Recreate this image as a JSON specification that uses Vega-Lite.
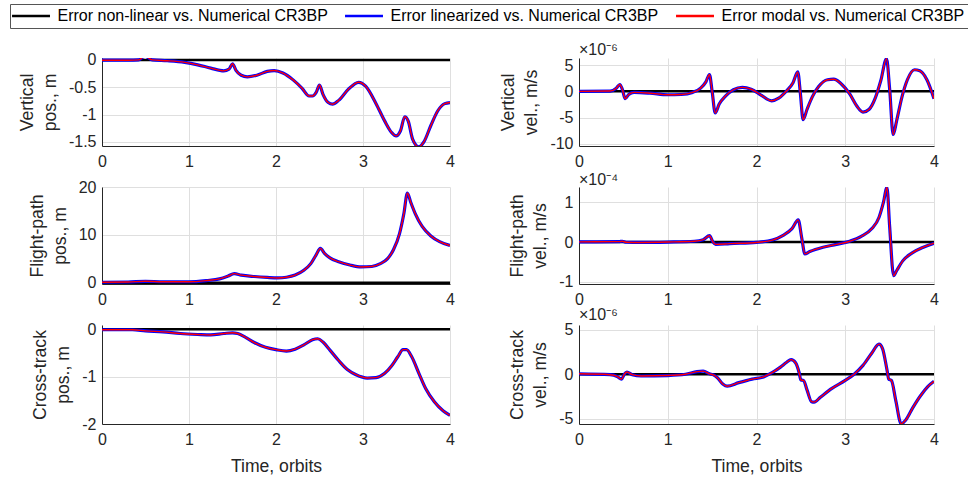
{
  "$schema": "https://vega.github.io/schema/vega-lite/v6.json",
  "background": "white",
  "padding": {"left": 9, "top": 3, "right": 0, "bottom": 0},
  "autosize": {"type": "pad"},
  "config": {
    "font": "Liberation Sans",
    "view": {"stroke": null},
    "axis": {
      "labelFont": "Liberation Sans", "labelFontSize": 16, "labelColor": "#262626",
      "titleFont": "Liberation Sans", "titleFontSize": 17.6, "titleColor": "#262626", "titleFontWeight": "normal",
      "titleLineHeight": 23,
      "domainColor": "#262626", "domainWidth": 1,
      "gridColor": "#dfdfdf", "gridWidth": 1,
      "ticks": false, "labelFlush": false, "labelPadding": 6, "labelOverlap": false
    },
    "axisX": {"labelPadding": 7, "titlePadding": 10},
    "axisY": {"titlePadding": 9},
    "title": {"font": "Liberation Sans", "fontSize": 16, "fontWeight": "normal", "color": "#262626", "anchor": "start", "frame": "group", "offset": -1}
  },
  "data": {"values": [
    {"panel":"vpos","t":0,"nl":0,"lin":-0.005,"mod":-0.005},
    {"panel":"vpos","t":0.3,"nl":0,"lin":-0.005,"mod":-0.005},
    {"panel":"vpos","t":0.42,"nl":0,"lin":0.0,"mod":0.0},
    {"panel":"vpos","t":0.47,"nl":0,"lin":0.05,"mod":0.05},
    {"panel":"vpos","t":0.5,"nl":0,"lin":0.07,"mod":0.07},
    {"panel":"vpos","t":0.53,"nl":0,"lin":0.04,"mod":0.04},
    {"panel":"vpos","t":0.58,"nl":0,"lin":0.0,"mod":0.0},
    {"panel":"vpos","t":0.75,"nl":0,"lin":-0.015,"mod":-0.015},
    {"panel":"vpos","t":0.95,"nl":0,"lin":-0.045,"mod":-0.045},
    {"panel":"vpos","t":1.1,"nl":0,"lin":-0.09,"mod":-0.09},
    {"panel":"vpos","t":1.25,"nl":0,"lin":-0.15,"mod":-0.15},
    {"panel":"vpos","t":1.4,"nl":0,"lin":-0.2,"mod":-0.2},
    {"panel":"vpos","t":1.46,"nl":0,"lin":-0.17,"mod":-0.17},
    {"panel":"vpos","t":1.5,"nl":0,"lin":-0.07,"mod":-0.07},
    {"panel":"vpos","t":1.54,"nl":0,"lin":-0.19,"mod":-0.19},
    {"panel":"vpos","t":1.6,"nl":0,"lin":-0.28,"mod":-0.28},
    {"panel":"vpos","t":1.67,"nl":0,"lin":-0.31,"mod":-0.31},
    {"panel":"vpos","t":1.78,"nl":0,"lin":-0.28,"mod":-0.28},
    {"panel":"vpos","t":1.9,"nl":0,"lin":-0.21,"mod":-0.21},
    {"panel":"vpos","t":1.98,"nl":0,"lin":-0.195,"mod":-0.195},
    {"panel":"vpos","t":2.08,"nl":0,"lin":-0.24,"mod":-0.24},
    {"panel":"vpos","t":2.2,"nl":0,"lin":-0.37,"mod":-0.37},
    {"panel":"vpos","t":2.3,"nl":0,"lin":-0.52,"mod":-0.52},
    {"panel":"vpos","t":2.38,"nl":0,"lin":-0.66,"mod":-0.66},
    {"panel":"vpos","t":2.42,"nl":0,"lin":-0.66,"mod":-0.66},
    {"panel":"vpos","t":2.46,"nl":0,"lin":-0.6,"mod":-0.6},
    {"panel":"vpos","t":2.5,"nl":0,"lin":-0.46,"mod":-0.46},
    {"panel":"vpos","t":2.54,"nl":0,"lin":-0.63,"mod":-0.63},
    {"panel":"vpos","t":2.6,"nl":0,"lin":-0.78,"mod":-0.78},
    {"panel":"vpos","t":2.65,"nl":0,"lin":-0.81,"mod":-0.81},
    {"panel":"vpos","t":2.72,"nl":0,"lin":-0.74,"mod":-0.74},
    {"panel":"vpos","t":2.83,"nl":0,"lin":-0.54,"mod":-0.54},
    {"panel":"vpos","t":2.95,"nl":0,"lin":-0.41,"mod":-0.41},
    {"panel":"vpos","t":3.03,"nl":0,"lin":-0.48,"mod":-0.48},
    {"panel":"vpos","t":3.15,"nl":0,"lin":-0.8,"mod":-0.8},
    {"panel":"vpos","t":3.25,"nl":0,"lin":-1.12,"mod":-1.12},
    {"panel":"vpos","t":3.33,"nl":0,"lin":-1.33,"mod":-1.33},
    {"panel":"vpos","t":3.38,"nl":0,"lin":-1.39,"mod":-1.39},
    {"panel":"vpos","t":3.43,"nl":0,"lin":-1.3,"mod":-1.3},
    {"panel":"vpos","t":3.48,"nl":0,"lin":-1.04,"mod":-1.04},
    {"panel":"vpos","t":3.52,"nl":0,"lin":-1.12,"mod":-1.12},
    {"panel":"vpos","t":3.57,"nl":0,"lin":-1.45,"mod":-1.45},
    {"panel":"vpos","t":3.64,"nl":0,"lin":-1.59,"mod":-1.59},
    {"panel":"vpos","t":3.7,"nl":0,"lin":-1.5,"mod":-1.5},
    {"panel":"vpos","t":3.78,"nl":0,"lin":-1.2,"mod":-1.2},
    {"panel":"vpos","t":3.86,"nl":0,"lin":-0.93,"mod":-0.93},
    {"panel":"vpos","t":3.94,"nl":0,"lin":-0.8,"mod":-0.8},
    {"panel":"vpos","t":4.0,"nl":0,"lin":-0.78,"mod":-0.78},

    {"panel":"vvel","t":0,"nl":0,"lin":0,"mod":0},
    {"panel":"vvel","t":0.35,"nl":0,"lin":0.05e-6,"mod":0.05e-6},
    {"panel":"vvel","t":0.42,"nl":0,"lin":0.6e-6,"mod":0.6e-6},
    {"panel":"vvel","t":0.46,"nl":0,"lin":1.3e-6,"mod":1.3e-6},
    {"panel":"vvel","t":0.49,"nl":0,"lin":0.3e-6,"mod":0.3e-6},
    {"panel":"vvel","t":0.52,"nl":0,"lin":-1.4e-6,"mod":-1.4e-6},
    {"panel":"vvel","t":0.56,"nl":0,"lin":-0.6e-6,"mod":-0.6e-6},
    {"panel":"vvel","t":0.62,"nl":0,"lin":-0.2e-6,"mod":-0.2e-6},
    {"panel":"vvel","t":0.8,"nl":0,"lin":-0.35e-6,"mod":-0.35e-6},
    {"panel":"vvel","t":1.0,"nl":0,"lin":-0.65e-6,"mod":-0.65e-6},
    {"panel":"vvel","t":1.15,"nl":0,"lin":-0.6e-6,"mod":-0.6e-6},
    {"panel":"vvel","t":1.28,"nl":0,"lin":-0.2e-6,"mod":-0.2e-6},
    {"panel":"vvel","t":1.37,"nl":0,"lin":0.6e-6,"mod":0.6e-6},
    {"panel":"vvel","t":1.43,"nl":0,"lin":1.8e-6,"mod":1.8e-6},
    {"panel":"vvel","t":1.47,"nl":0,"lin":3.2e-6,"mod":3.2e-6},
    {"panel":"vvel","t":1.5,"nl":0,"lin":0.0,"mod":0.0},
    {"panel":"vvel","t":1.535,"nl":0,"lin":-4.1e-6,"mod":-4.1e-6},
    {"panel":"vvel","t":1.58,"nl":0,"lin":-2.4e-6,"mod":-2.4e-6},
    {"panel":"vvel","t":1.65,"nl":0,"lin":-0.9e-6,"mod":-0.9e-6},
    {"panel":"vvel","t":1.74,"nl":0,"lin":0.3e-6,"mod":0.3e-6},
    {"panel":"vvel","t":1.84,"nl":0,"lin":0.75e-6,"mod":0.75e-6},
    {"panel":"vvel","t":1.94,"nl":0,"lin":0.4e-6,"mod":0.4e-6},
    {"panel":"vvel","t":2.05,"nl":0,"lin":-0.7e-6,"mod":-0.7e-6},
    {"panel":"vvel","t":2.17,"nl":0,"lin":-1.8e-6,"mod":-1.8e-6},
    {"panel":"vvel","t":2.25,"nl":0,"lin":-1.3e-6,"mod":-1.3e-6},
    {"panel":"vvel","t":2.34,"nl":0,"lin":0.1e-6,"mod":0.1e-6},
    {"panel":"vvel","t":2.41,"nl":0,"lin":1.6e-6,"mod":1.6e-6},
    {"panel":"vvel","t":2.465,"nl":0,"lin":3.7e-6,"mod":3.7e-6},
    {"panel":"vvel","t":2.495,"nl":0,"lin":-0.5e-6,"mod":-0.5e-6},
    {"panel":"vvel","t":2.525,"nl":0,"lin":-5.4e-6,"mod":-5.4e-6},
    {"panel":"vvel","t":2.57,"nl":0,"lin":-3.4e-6,"mod":-3.4e-6},
    {"panel":"vvel","t":2.63,"nl":0,"lin":-1.0e-6,"mod":-1.0e-6},
    {"panel":"vvel","t":2.7,"nl":0,"lin":0.9e-6,"mod":0.9e-6},
    {"panel":"vvel","t":2.8,"nl":0,"lin":2.2e-6,"mod":2.2e-6},
    {"panel":"vvel","t":2.87,"nl":0,"lin":2.3e-6,"mod":2.3e-6},
    {"panel":"vvel","t":2.95,"nl":0,"lin":1.5e-6,"mod":1.5e-6},
    {"panel":"vvel","t":3.05,"nl":0,"lin":-0.5e-6,"mod":-0.5e-6},
    {"panel":"vvel","t":3.13,"nl":0,"lin":-2.8e-6,"mod":-2.8e-6},
    {"panel":"vvel","t":3.2,"nl":0,"lin":-3.95e-6,"mod":-3.95e-6},
    {"panel":"vvel","t":3.27,"nl":0,"lin":-3.4e-6,"mod":-3.4e-6},
    {"panel":"vvel","t":3.34,"nl":0,"lin":-1.2e-6,"mod":-1.2e-6},
    {"panel":"vvel","t":3.4,"nl":0,"lin":2.0e-6,"mod":2.0e-6},
    {"panel":"vvel","t":3.465,"nl":0,"lin":6.2e-6,"mod":6.2e-6},
    {"panel":"vvel","t":3.5,"nl":0,"lin":0.5e-6,"mod":0.5e-6},
    {"panel":"vvel","t":3.54,"nl":0,"lin":-8.2e-6,"mod":-8.2e-6},
    {"panel":"vvel","t":3.58,"nl":0,"lin":-5.5e-6,"mod":-5.5e-6},
    {"panel":"vvel","t":3.64,"nl":0,"lin":-1.0e-6,"mod":-1.0e-6},
    {"panel":"vvel","t":3.7,"nl":0,"lin":2.2e-6,"mod":2.2e-6},
    {"panel":"vvel","t":3.78,"nl":0,"lin":4.1e-6,"mod":4.1e-6},
    {"panel":"vvel","t":3.84,"nl":0,"lin":3.9e-6,"mod":3.9e-6},
    {"panel":"vvel","t":3.92,"nl":0,"lin":2.2e-6,"mod":2.2e-6},
    {"panel":"vvel","t":4.0,"nl":0,"lin":-1.4e-6,"mod":-1.4e-6},

    {"panel":"fpos","t":0,"nl":0,"lin":0.1,"mod":0.1},
    {"panel":"fpos","t":0.3,"nl":0,"lin":0.15,"mod":0.15},
    {"panel":"fpos","t":0.5,"nl":0,"lin":0.3,"mod":0.3},
    {"panel":"fpos","t":0.7,"nl":0,"lin":0.2,"mod":0.2},
    {"panel":"fpos","t":1.0,"nl":0,"lin":0.2,"mod":0.2},
    {"panel":"fpos","t":1.2,"nl":0,"lin":0.45,"mod":0.45},
    {"panel":"fpos","t":1.35,"nl":0,"lin":0.8,"mod":0.8},
    {"panel":"fpos","t":1.45,"nl":0,"lin":1.4,"mod":1.4},
    {"panel":"fpos","t":1.52,"nl":0,"lin":1.9,"mod":1.9},
    {"panel":"fpos","t":1.6,"nl":0,"lin":1.6,"mod":1.6},
    {"panel":"fpos","t":1.75,"nl":0,"lin":1.3,"mod":1.3},
    {"panel":"fpos","t":1.9,"nl":0,"lin":1.1,"mod":1.1},
    {"panel":"fpos","t":2.02,"nl":0,"lin":1.0,"mod":1.0},
    {"panel":"fpos","t":2.12,"nl":0,"lin":1.15,"mod":1.15},
    {"panel":"fpos","t":2.22,"nl":0,"lin":1.6,"mod":1.6},
    {"panel":"fpos","t":2.32,"nl":0,"lin":2.6,"mod":2.6},
    {"panel":"fpos","t":2.4,"nl":0,"lin":4.0,"mod":4.0},
    {"panel":"fpos","t":2.46,"nl":0,"lin":5.8,"mod":5.8},
    {"panel":"fpos","t":2.51,"nl":0,"lin":7.2,"mod":7.2},
    {"panel":"fpos","t":2.56,"nl":0,"lin":6.1,"mod":6.1},
    {"panel":"fpos","t":2.62,"nl":0,"lin":5.2,"mod":5.2},
    {"panel":"fpos","t":2.72,"nl":0,"lin":4.4,"mod":4.4},
    {"panel":"fpos","t":2.85,"nl":0,"lin":3.7,"mod":3.7},
    {"panel":"fpos","t":2.98,"nl":0,"lin":3.3,"mod":3.3},
    {"panel":"fpos","t":3.1,"nl":0,"lin":3.4,"mod":3.4},
    {"panel":"fpos","t":3.2,"nl":0,"lin":4.0,"mod":4.0},
    {"panel":"fpos","t":3.28,"nl":0,"lin":5.0,"mod":5.0},
    {"panel":"fpos","t":3.35,"nl":0,"lin":6.9,"mod":6.9},
    {"panel":"fpos","t":3.42,"nl":0,"lin":10.3,"mod":10.3},
    {"panel":"fpos","t":3.47,"nl":0,"lin":14.5,"mod":14.5},
    {"panel":"fpos","t":3.51,"nl":0,"lin":18.8,"mod":18.8},
    {"panel":"fpos","t":3.55,"nl":0,"lin":16.8,"mod":16.8},
    {"panel":"fpos","t":3.6,"nl":0,"lin":14.5,"mod":14.5},
    {"panel":"fpos","t":3.68,"nl":0,"lin":11.8,"mod":11.8},
    {"panel":"fpos","t":3.78,"nl":0,"lin":9.8,"mod":9.8},
    {"panel":"fpos","t":3.88,"nl":0,"lin":8.6,"mod":8.6},
    {"panel":"fpos","t":4.0,"nl":0,"lin":7.8,"mod":7.8},

    {"panel":"fvel","t":0,"nl":0,"lin":0.005e-4,"mod":0.005e-4},
    {"panel":"fvel","t":0.45,"nl":0,"lin":0.01e-4,"mod":0.01e-4},
    {"panel":"fvel","t":0.49,"nl":0,"lin":0.02e-4,"mod":0.02e-4},
    {"panel":"fvel","t":0.53,"nl":0,"lin":-0.005e-4,"mod":-0.005e-4},
    {"panel":"fvel","t":0.7,"nl":0,"lin":-0.01e-4,"mod":-0.01e-4},
    {"panel":"fvel","t":1.0,"nl":0,"lin":0.0,"mod":0.0},
    {"panel":"fvel","t":1.3,"nl":0,"lin":0.02e-4,"mod":0.02e-4},
    {"panel":"fvel","t":1.4,"nl":0,"lin":0.06e-4,"mod":0.06e-4},
    {"panel":"fvel","t":1.47,"nl":0,"lin":0.16e-4,"mod":0.16e-4},
    {"panel":"fvel","t":1.51,"nl":0,"lin":0.0,"mod":0.0},
    {"panel":"fvel","t":1.54,"nl":0,"lin":-0.06e-4,"mod":-0.06e-4},
    {"panel":"fvel","t":1.7,"nl":0,"lin":-0.04e-4,"mod":-0.04e-4},
    {"panel":"fvel","t":2.0,"nl":0,"lin":-0.01e-4,"mod":-0.01e-4},
    {"panel":"fvel","t":2.18,"nl":0,"lin":0.05e-4,"mod":0.05e-4},
    {"panel":"fvel","t":2.3,"nl":0,"lin":0.17e-4,"mod":0.17e-4},
    {"panel":"fvel","t":2.4,"nl":0,"lin":0.34e-4,"mod":0.34e-4},
    {"panel":"fvel","t":2.47,"nl":0,"lin":0.56e-4,"mod":0.56e-4},
    {"panel":"fvel","t":2.51,"nl":0,"lin":0.1e-4,"mod":0.1e-4},
    {"panel":"fvel","t":2.545,"nl":0,"lin":-0.3e-4,"mod":-0.3e-4},
    {"panel":"fvel","t":2.6,"nl":0,"lin":-0.24e-4,"mod":-0.24e-4},
    {"panel":"fvel","t":2.75,"nl":0,"lin":-0.13e-4,"mod":-0.13e-4},
    {"panel":"fvel","t":2.9,"nl":0,"lin":-0.06e-4,"mod":-0.06e-4},
    {"panel":"fvel","t":3.05,"nl":0,"lin":0.02e-4,"mod":0.02e-4},
    {"panel":"fvel","t":3.18,"nl":0,"lin":0.14e-4,"mod":0.14e-4},
    {"panel":"fvel","t":3.3,"nl":0,"lin":0.34e-4,"mod":0.34e-4},
    {"panel":"fvel","t":3.38,"nl":0,"lin":0.62e-4,"mod":0.62e-4},
    {"panel":"fvel","t":3.43,"nl":0,"lin":1.0e-4,"mod":1.0e-4},
    {"panel":"fvel","t":3.47,"nl":0,"lin":1.38e-4,"mod":1.38e-4},
    {"panel":"fvel","t":3.5,"nl":0,"lin":0.4e-4,"mod":0.4e-4},
    {"panel":"fvel","t":3.545,"nl":0,"lin":-0.85e-4,"mod":-0.85e-4},
    {"panel":"fvel","t":3.58,"nl":0,"lin":-0.72e-4,"mod":-0.72e-4},
    {"panel":"fvel","t":3.65,"nl":0,"lin":-0.47e-4,"mod":-0.47e-4},
    {"panel":"fvel","t":3.75,"nl":0,"lin":-0.28e-4,"mod":-0.28e-4},
    {"panel":"fvel","t":3.88,"nl":0,"lin":-0.13e-4,"mod":-0.13e-4},
    {"panel":"fvel","t":4.0,"nl":0,"lin":-0.03e-4,"mod":-0.03e-4},

    {"panel":"cpos","t":0,"nl":0,"lin":-0.01,"mod":-0.01},
    {"panel":"cpos","t":0.35,"nl":0,"lin":-0.01,"mod":-0.01},
    {"panel":"cpos","t":0.5,"nl":0,"lin":-0.035,"mod":-0.035},
    {"panel":"cpos","t":0.7,"nl":0,"lin":-0.055,"mod":-0.055},
    {"panel":"cpos","t":0.9,"nl":0,"lin":-0.09,"mod":-0.09},
    {"panel":"cpos","t":1.1,"nl":0,"lin":-0.11,"mod":-0.11},
    {"panel":"cpos","t":1.25,"nl":0,"lin":-0.12,"mod":-0.12},
    {"panel":"cpos","t":1.4,"nl":0,"lin":-0.09,"mod":-0.09},
    {"panel":"cpos","t":1.5,"nl":0,"lin":-0.075,"mod":-0.075},
    {"panel":"cpos","t":1.56,"nl":0,"lin":-0.09,"mod":-0.09},
    {"panel":"cpos","t":1.65,"nl":0,"lin":-0.17,"mod":-0.17},
    {"panel":"cpos","t":1.75,"nl":0,"lin":-0.28,"mod":-0.28},
    {"panel":"cpos","t":1.88,"nl":0,"lin":-0.38,"mod":-0.38},
    {"panel":"cpos","t":2.0,"nl":0,"lin":-0.43,"mod":-0.43},
    {"panel":"cpos","t":2.12,"nl":0,"lin":-0.46,"mod":-0.46},
    {"panel":"cpos","t":2.22,"nl":0,"lin":-0.42,"mod":-0.42},
    {"panel":"cpos","t":2.32,"nl":0,"lin":-0.33,"mod":-0.33},
    {"panel":"cpos","t":2.42,"nl":0,"lin":-0.22,"mod":-0.22},
    {"panel":"cpos","t":2.48,"nl":0,"lin":-0.2,"mod":-0.2},
    {"panel":"cpos","t":2.54,"nl":0,"lin":-0.27,"mod":-0.27},
    {"panel":"cpos","t":2.62,"nl":0,"lin":-0.44,"mod":-0.44},
    {"panel":"cpos","t":2.72,"nl":0,"lin":-0.66,"mod":-0.66},
    {"panel":"cpos","t":2.82,"nl":0,"lin":-0.85,"mod":-0.85},
    {"panel":"cpos","t":2.92,"nl":0,"lin":-0.96,"mod":-0.96},
    {"panel":"cpos","t":3.05,"nl":0,"lin":-1.03,"mod":-1.03},
    {"panel":"cpos","t":3.15,"nl":0,"lin":-1.02,"mod":-1.02},
    {"panel":"cpos","t":3.25,"nl":0,"lin":-0.93,"mod":-0.93},
    {"panel":"cpos","t":3.33,"nl":0,"lin":-0.77,"mod":-0.77},
    {"panel":"cpos","t":3.4,"nl":0,"lin":-0.58,"mod":-0.58},
    {"panel":"cpos","t":3.46,"nl":0,"lin":-0.43,"mod":-0.43},
    {"panel":"cpos","t":3.5,"nl":0,"lin":-0.43,"mod":-0.43},
    {"panel":"cpos","t":3.56,"nl":0,"lin":-0.58,"mod":-0.58},
    {"panel":"cpos","t":3.64,"nl":0,"lin":-0.92,"mod":-0.92},
    {"panel":"cpos","t":3.72,"nl":0,"lin":-1.25,"mod":-1.25},
    {"panel":"cpos","t":3.82,"nl":0,"lin":-1.53,"mod":-1.53},
    {"panel":"cpos","t":3.92,"nl":0,"lin":-1.72,"mod":-1.72},
    {"panel":"cpos","t":4.0,"nl":0,"lin":-1.82,"mod":-1.82},

    {"panel":"cvel","t":0,"nl":0,"lin":0.05e-6,"mod":0.05e-6},
    {"panel":"cvel","t":0.35,"nl":0,"lin":-0.05e-6,"mod":-0.05e-6},
    {"panel":"cvel","t":0.43,"nl":0,"lin":-0.25e-6,"mod":-0.25e-6},
    {"panel":"cvel","t":0.48,"nl":0,"lin":-0.55e-6,"mod":-0.55e-6},
    {"panel":"cvel","t":0.51,"nl":0,"lin":0.0,"mod":0.0},
    {"panel":"cvel","t":0.54,"nl":0,"lin":0.25e-6,"mod":0.25e-6},
    {"panel":"cvel","t":0.6,"nl":0,"lin":-0.05e-6,"mod":-0.05e-6},
    {"panel":"cvel","t":0.7,"nl":0,"lin":-0.2e-6,"mod":-0.2e-6},
    {"panel":"cvel","t":1.0,"nl":0,"lin":-0.15e-6,"mod":-0.15e-6},
    {"panel":"cvel","t":1.2,"nl":0,"lin":0.0,"mod":0.0},
    {"panel":"cvel","t":1.33,"nl":0,"lin":0.3e-6,"mod":0.3e-6},
    {"panel":"cvel","t":1.4,"nl":0,"lin":0.35e-6,"mod":0.35e-6},
    {"panel":"cvel","t":1.47,"nl":0,"lin":0.05e-6,"mod":0.05e-6},
    {"panel":"cvel","t":1.52,"nl":0,"lin":-0.1e-6,"mod":-0.1e-6},
    {"panel":"cvel","t":1.56,"nl":0,"lin":-0.4e-6,"mod":-0.4e-6},
    {"panel":"cvel","t":1.62,"nl":0,"lin":-1.1e-6,"mod":-1.1e-6},
    {"panel":"cvel","t":1.67,"nl":0,"lin":-1.35e-6,"mod":-1.35e-6},
    {"panel":"cvel","t":1.8,"nl":0,"lin":-0.95e-6,"mod":-0.95e-6},
    {"panel":"cvel","t":1.95,"nl":0,"lin":-0.55e-6,"mod":-0.55e-6},
    {"panel":"cvel","t":2.08,"nl":0,"lin":-0.3e-6,"mod":-0.3e-6},
    {"panel":"cvel","t":2.18,"nl":0,"lin":0.2e-6,"mod":0.2e-6},
    {"panel":"cvel","t":2.27,"nl":0,"lin":0.8e-6,"mod":0.8e-6},
    {"panel":"cvel","t":2.34,"nl":0,"lin":1.35e-6,"mod":1.35e-6},
    {"panel":"cvel","t":2.39,"nl":0,"lin":1.65e-6,"mod":1.65e-6},
    {"panel":"cvel","t":2.44,"nl":0,"lin":1.3e-6,"mod":1.3e-6},
    {"panel":"cvel","t":2.48,"nl":0,"lin":0.2e-6,"mod":0.2e-6},
    {"panel":"cvel","t":2.5,"nl":0,"lin":-0.65e-6,"mod":-0.65e-6},
    {"panel":"cvel","t":2.53,"nl":0,"lin":-0.7e-6,"mod":-0.7e-6},
    {"panel":"cvel","t":2.57,"nl":0,"lin":-1.8e-6,"mod":-1.8e-6},
    {"panel":"cvel","t":2.62,"nl":0,"lin":-3.1e-6,"mod":-3.1e-6},
    {"panel":"cvel","t":2.65,"nl":0,"lin":-3.15e-6,"mod":-3.15e-6},
    {"panel":"cvel","t":2.72,"nl":0,"lin":-2.6e-6,"mod":-2.6e-6},
    {"panel":"cvel","t":2.85,"nl":0,"lin":-1.6e-6,"mod":-1.6e-6},
    {"panel":"cvel","t":3.0,"nl":0,"lin":-0.7e-6,"mod":-0.7e-6},
    {"panel":"cvel","t":3.1,"nl":0,"lin":0.0,"mod":0.0},
    {"panel":"cvel","t":3.2,"nl":0,"lin":1.0e-6,"mod":1.0e-6},
    {"panel":"cvel","t":3.3,"nl":0,"lin":2.4e-6,"mod":2.4e-6},
    {"panel":"cvel","t":3.38,"nl":0,"lin":3.4e-6,"mod":3.4e-6},
    {"panel":"cvel","t":3.42,"nl":0,"lin":2.9e-6,"mod":2.9e-6},
    {"panel":"cvel","t":3.47,"nl":0,"lin":0.5e-6,"mod":0.5e-6},
    {"panel":"cvel","t":3.49,"nl":0,"lin":-0.55e-6,"mod":-0.55e-6},
    {"panel":"cvel","t":3.52,"nl":0,"lin":-0.7e-6,"mod":-0.7e-6},
    {"panel":"cvel","t":3.57,"nl":0,"lin":-3.0e-6,"mod":-3.0e-6},
    {"panel":"cvel","t":3.63,"nl":0,"lin":-5.6e-6,"mod":-5.6e-6},
    {"panel":"cvel","t":3.68,"nl":0,"lin":-5.2e-6,"mod":-5.2e-6},
    {"panel":"cvel","t":3.76,"nl":0,"lin":-3.8e-6,"mod":-3.8e-6},
    {"panel":"cvel","t":3.85,"nl":0,"lin":-2.4e-6,"mod":-2.4e-6},
    {"panel":"cvel","t":3.93,"nl":0,"lin":-1.4e-6,"mod":-1.4e-6},
    {"panel":"cvel","t":4.0,"nl":0,"lin":-0.8e-6,"mod":-0.8e-6}
  ]},
  "columns": 2,
  "bounds": "flush",
  "align": "each",
  "spacing": {"row": 41, "column": 129},
  "resolve": {"scale": {"x": "independent", "y": "independent", "color": "shared"}},
  "concat": [
    {
      "width": 348, "height": 88,
      "transform": [{"filter": "datum.panel == 'vpos'"}, {"fold": ["nl", "lin", "mod"], "as": ["s", "v"]}],
      "encoding": {
        "x": {"field": "t", "type": "quantitative", "scale": {"domain": [0, 4], "nice": false}, "axis": {"values": [0, 1, 2, 3, 4], "title": null}},
        "y": {"field": "v", "type": "quantitative", "scale": {"domain": [-1.575, 0.035], "nice": false, "zero": false}, "axis": {"values": [-1.5, -1, -0.5, 0], "labelExpr": "'' + datum.value", "title": ["Vertical", "pos., m"]}}
      },
      "layer": [
        {"transform": [{"filter": "datum.s == 'nl'"}], "mark": {"type": "line", "strokeWidth": 2.5, "clip": true},
         "encoding": {"color": {"datum": "Error non-linear vs. Numerical CR3BP", "type": "nominal",
           "scale": {"domain": ["Error non-linear vs. Numerical CR3BP", "Error linearized vs. Numerical CR3BP", "Error modal vs. Numerical CR3BP"], "range": ["#000000", "#0000ff", "#ff0000"]},
           "legend": {"orient": "none", "direction": "horizontal", "legendX": -92, "legendY": -54, "title": null,
             "symbolType": "M-2.1,0H5.9", "symbolSize": 90, "symbolStrokeWidth": 2.5,
             "labelFont": "Liberation Sans", "labelFontSize": 16, "labelColor": "#000000", "labelOffset": 27.5, "labelLimit": 500,
             "columnPadding": 12, "padding": 4, "strokeColor": "#555555", "fillColor": "#ffffff", "gridAlign": "none"}}}},
        {"transform": [{"filter": "datum.s == 'lin'"}], "mark": {"type": "line", "strokeWidth": 3.2, "interpolate": "monotone", "clip": true},
         "encoding": {"color": {"datum": "Error linearized vs. Numerical CR3BP", "type": "nominal"}}},
        {"transform": [{"filter": "datum.s == 'mod'"}], "mark": {"type": "line", "strokeWidth": 1.4, "interpolate": "monotone", "clip": true},
         "encoding": {"color": {"datum": "Error modal vs. Numerical CR3BP", "type": "nominal"}}}
      ]
    },
    {
      "width": 355, "height": 88,
      "title": {"text": "×10⁻⁶"},
      "transform": [{"filter": "datum.panel == 'vvel'"}, {"fold": ["nl", "lin", "mod"], "as": ["s", "v"]}],
      "encoding": {
        "x": {"field": "t", "type": "quantitative", "scale": {"domain": [0, 4], "nice": false}, "axis": {"values": [0, 1, 2, 3, 4], "title": null}},
        "y": {"field": "v", "type": "quantitative", "scale": {"domain": [-10.38e-6, 6.33e-6], "nice": false, "zero": false}, "axis": {"values": [-10e-6, -5e-6, 0, 5e-6], "labelExpr": "'' + round(datum.value * 1e6)", "title": ["Vertical", "vel., m/s"]}}
      },
      "layer": [
        {"transform": [{"filter": "datum.s == 'nl'"}], "mark": {"type": "line", "strokeWidth": 2.5, "clip": true},
         "encoding": {"color": {"datum": "Error non-linear vs. Numerical CR3BP", "type": "nominal"}}},
        {"transform": [{"filter": "datum.s == 'lin'"}], "mark": {"type": "line", "strokeWidth": 3.2, "interpolate": "monotone", "clip": true},
         "encoding": {"color": {"datum": "Error linearized vs. Numerical CR3BP", "type": "nominal"}}},
        {"transform": [{"filter": "datum.s == 'mod'"}], "mark": {"type": "line", "strokeWidth": 1.4, "interpolate": "monotone", "clip": true},
         "encoding": {"color": {"datum": "Error modal vs. Numerical CR3BP", "type": "nominal"}}}
      ]
    },
    {
      "width": 348, "height": 97,
      "transform": [{"filter": "datum.panel == 'fpos'"}, {"fold": ["nl", "lin", "mod"], "as": ["s", "v"]}],
      "encoding": {
        "x": {"field": "t", "type": "quantitative", "scale": {"domain": [0, 4], "nice": false}, "axis": {"values": [0, 1, 2, 3, 4], "title": null}},
        "y": {"field": "v", "type": "quantitative", "scale": {"domain": [-0.27, 20.06], "nice": false, "zero": false}, "axis": {"values": [0, 10, 20], "labelExpr": "'' + datum.value", "title": ["Flight-path", "pos., m"]}}
      },
      "layer": [
        {"transform": [{"filter": "datum.s == 'nl'"}], "mark": {"type": "line", "strokeWidth": 2.5, "clip": true},
         "encoding": {"color": {"datum": "Error non-linear vs. Numerical CR3BP", "type": "nominal"}}},
        {"transform": [{"filter": "datum.s == 'lin'"}], "mark": {"type": "line", "strokeWidth": 3.2, "interpolate": "monotone", "clip": true},
         "encoding": {"color": {"datum": "Error linearized vs. Numerical CR3BP", "type": "nominal"}}},
        {"transform": [{"filter": "datum.s == 'mod'"}], "mark": {"type": "line", "strokeWidth": 1.4, "interpolate": "monotone", "clip": true},
         "encoding": {"color": {"datum": "Error modal vs. Numerical CR3BP", "type": "nominal"}}}
      ]
    },
    {
      "width": 355, "height": 97,
      "title": {"text": "×10⁻⁴"},
      "transform": [{"filter": "datum.panel == 'fvel'"}, {"fold": ["nl", "lin", "mod"], "as": ["s", "v"]}],
      "encoding": {
        "x": {"field": "t", "type": "quantitative", "scale": {"domain": [0, 4], "nice": false}, "axis": {"values": [0, 1, 2, 3, 4], "title": null}},
        "y": {"field": "v", "type": "quantitative", "scale": {"domain": [-1.06e-4, 1.39e-4], "nice": false, "zero": false}, "axis": {"values": [-1e-4, 0, 1e-4], "labelExpr": "'' + round(datum.value * 1e4)", "title": ["Flight-path", "vel., m/s"]}}
      },
      "layer": [
        {"transform": [{"filter": "datum.s == 'nl'"}], "mark": {"type": "line", "strokeWidth": 2.5, "clip": true},
         "encoding": {"color": {"datum": "Error non-linear vs. Numerical CR3BP", "type": "nominal"}}},
        {"transform": [{"filter": "datum.s == 'lin'"}], "mark": {"type": "line", "strokeWidth": 3.2, "interpolate": "monotone", "clip": true},
         "encoding": {"color": {"datum": "Error linearized vs. Numerical CR3BP", "type": "nominal"}}},
        {"transform": [{"filter": "datum.s == 'mod'"}], "mark": {"type": "line", "strokeWidth": 1.4, "interpolate": "monotone", "clip": true},
         "encoding": {"color": {"datum": "Error modal vs. Numerical CR3BP", "type": "nominal"}}}
      ]
    },
    {
      "width": 348, "height": 99,
      "transform": [{"filter": "datum.panel == 'cpos'"}, {"fold": ["nl", "lin", "mod"], "as": ["s", "v"]}],
      "encoding": {
        "x": {"field": "t", "type": "quantitative", "scale": {"domain": [0, 4], "nice": false}, "axis": {"values": [0, 1, 2, 3, 4], "title": "Time, orbits"}},
        "y": {"field": "v", "type": "quantitative", "scale": {"domain": [-2, 0.09], "nice": false, "zero": false}, "axis": {"values": [-2, -1, 0], "labelExpr": "'' + datum.value", "title": ["Cross-track", "pos., m"]}}
      },
      "layer": [
        {"transform": [{"filter": "datum.s == 'nl'"}], "mark": {"type": "line", "strokeWidth": 2.5, "clip": true},
         "encoding": {"color": {"datum": "Error non-linear vs. Numerical CR3BP", "type": "nominal"}}},
        {"transform": [{"filter": "datum.s == 'lin'"}], "mark": {"type": "line", "strokeWidth": 3.2, "interpolate": "monotone", "clip": true},
         "encoding": {"color": {"datum": "Error linearized vs. Numerical CR3BP", "type": "nominal"}}},
        {"transform": [{"filter": "datum.s == 'mod'"}], "mark": {"type": "line", "strokeWidth": 1.4, "interpolate": "monotone", "clip": true},
         "encoding": {"color": {"datum": "Error modal vs. Numerical CR3BP", "type": "nominal"}}}
      ]
    },
    {
      "width": 355, "height": 99,
      "title": {"text": "×10⁻⁶"},
      "transform": [{"filter": "datum.panel == 'cvel'"}, {"fold": ["nl", "lin", "mod"], "as": ["s", "v"]}],
      "encoding": {
        "x": {"field": "t", "type": "quantitative", "scale": {"domain": [0, 4], "nice": false}, "axis": {"values": [0, 1, 2, 3, 4], "title": "Time, orbits"}},
        "y": {"field": "v", "type": "quantitative", "scale": {"domain": [-5.62e-6, 5.56e-6], "nice": false, "zero": false}, "axis": {"values": [-5e-6, 0, 5e-6], "labelExpr": "'' + round(datum.value * 1e6)", "title": ["Cross-track", "vel., m/s"]}}
      },
      "layer": [
        {"transform": [{"filter": "datum.s == 'nl'"}], "mark": {"type": "line", "strokeWidth": 2.5, "clip": true},
         "encoding": {"color": {"datum": "Error non-linear vs. Numerical CR3BP", "type": "nominal"}}},
        {"transform": [{"filter": "datum.s == 'lin'"}], "mark": {"type": "line", "strokeWidth": 3.2, "interpolate": "monotone", "clip": true},
         "encoding": {"color": {"datum": "Error linearized vs. Numerical CR3BP", "type": "nominal"}}},
        {"transform": [{"filter": "datum.s == 'mod'"}], "mark": {"type": "line", "strokeWidth": 1.4, "interpolate": "monotone", "clip": true},
         "encoding": {"color": {"datum": "Error modal vs. Numerical CR3BP", "type": "nominal"}}}
      ]
    }
  ]
}
